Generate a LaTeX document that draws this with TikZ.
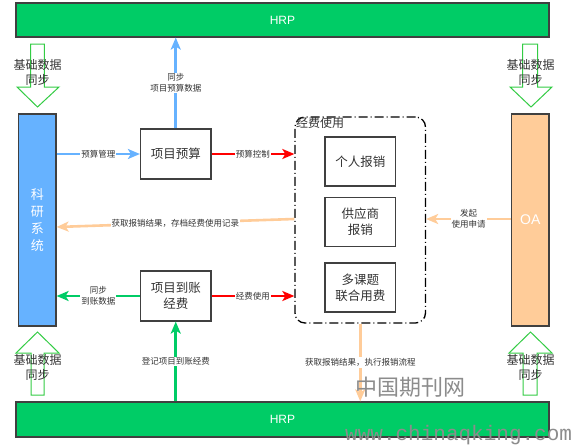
\documentclass[tikz,border=0pt]{standalone}
\usepackage{fontspec}
\setmainfont{Noto Sans CJK SC}
\newfontfamily\hv{Liberation Sans}
\newfontfamily\mono{Liberation Mono}
\usetikzlibrary{arrows.meta,calc}
\definecolor{hrpgreen}{HTML}{00CC66}
\definecolor{kyblue}{HTML}{66B2FF}
\definecolor{oaorange}{HTML}{FFCC99}
\definecolor{bordergray}{HTML}{404040}
\definecolor{txtgray}{HTML}{333333}
\definecolor{linkblue}{HTML}{66B2FF}
\definecolor{linkred}{HTML}{FF0000}
\definecolor{linkgreen}{HTML}{00CC66}
\definecolor{linkorange}{HTML}{FFCC99}
\definecolor{outlinegreen}{HTML}{33CC44}
\definecolor{wmgray}{HTML}{8C8C8C}
\tikzset{
  bar/.style={draw=bordergray, line width=1.2pt, inner sep=0pt},
  boxnode/.style={draw=bordergray, line width=1.2pt, fill=white, minimum width=70.5pt, minimum height=50pt, inner sep=0pt, align=center, font=\fontsize{12.5}{16}\selectfont, text=txtgray},
  link/.style={line width=2.6pt, -{Stealth[length=12pt,width=10pt,inset=3pt]}},
  elabel/.style={fill=white, inner sep=1pt, align=center, font=\fontsize{8.5}{11}\selectfont, text=txtgray},
  blockarrow/.style={draw=outlinegreen, line width=1pt},
  sidelabel/.style={align=center, font=\fontsize{12}{15}\selectfont, text=txtgray}
}
\begin{document}
\begin{tikzpicture}[x=1pt,y=-1pt]
\useasboundingbox (0,0) rectangle (576,447);
\fill[white] (0,0) rectangle (576,447);

% bars
\node[bar, fill=hrpgreen, minimum width=533pt, minimum height=34pt, text=white, font=\hv\fontsize{12}{14}\selectfont] (hrpT) at (282.5,20) {HRP};
\node[bar, fill=hrpgreen, minimum width=533pt, minimum height=35pt, text=white, font=\hv\fontsize{12}{14}\selectfont] (hrpB) at (282.5,419.5) {HRP};
\node[bar, fill=kyblue, minimum width=37.5pt, minimum height=212pt, text=white, align=center, font=\fontsize{13}{17}\selectfont] (ky) at (37.25,220) {科\\研\\系\\统};
\node[bar, fill=oaorange, minimum width=37.5pt, minimum height=212pt, text=white, font=\hv\fontsize{14}{16}\selectfont] (oa) at (530.25,220) {OA};

% block arrows (base data sync)
\draw[blockarrow] (30.7,44) -- (44.3,44) -- (44.3,87) -- (59,87) -- (37.5,107) -- (17,87) -- (30.7,87) -- cycle;
\draw[blockarrow] (522.7,44) -- (537.7,44) -- (537.7,87) -- (552,87) -- (531,107) -- (510,87) -- (522.7,87) -- cycle;
\draw[blockarrow] (31,395) -- (44,395) -- (44,353) -- (59,353) -- (37.5,332) -- (16,353) -- (31,353) -- cycle;
\draw[blockarrow] (523,395) -- (537,395) -- (537,353) -- (552,353) -- (530.5,332) -- (509,353) -- (523,353) -- cycle;
\node[sidelabel] (sTL) at (37.5,72.5) {基础数据\\同步};
\node[sidelabel] (sTR) at (530.5,72.5) {基础数据\\同步};
\node[sidelabel] (sBL) at (37.5,367.5) {基础数据\\同步};
\node[sidelabel] (sBR) at (530.5,367.5) {基础数据\\同步};

% main boxes
\node[boxnode] (ysb) at (175.75,154) {项目预算};
\node[boxnode] (dz) at (175.75,296) {项目到账\\经费};

% dashed group
\node[draw=black, line width=1.3pt, dash pattern=on 9pt off 3pt on 1pt off 3pt, rounded corners=10pt, minimum width=130.5pt, minimum height=206pt, inner sep=0pt] (jf) at (360.25,220) {};
\node[anchor=north west, inner sep=0pt, font=\fontsize{12}{14}\selectfont, text=txtgray] (jft) at (296,117.5) {经费使用};
\node[boxnode, minimum height=49pt] (gr) at (360.25,161.5) {个人报销};
\node[boxnode, minimum height=49pt] (gys) at (360.25,222) {供应商\\报销};
\node[boxnode, minimum height=49pt] (dkt) at (360.25,287.5) {多课题\\联合用费};

% connectors
\draw[link, linkblue] (ky.east |- ysb.west) -- node[elabel] {预算管理} (ysb.west);
\draw[link, linkred] (ysb.east) -- node[elabel] {预算控制} (ysb.east -| jf.west);
\draw[link, linkblue] (ysb.north) -- node[elabel] {同步\\项目预算数据} (ysb.north |- hrpT.south);
\draw[link, linkorange] ($(jf.west)+(0,-1)$) -- node[elabel] {获取报销结果，存档经费使用记录} ($(ky.east)+(0,7)$);
\draw[link, linkgreen] (dz.west) -- node[elabel] {同步\\到账数据} (dz.west -| ky.east);
\draw[link, linkred] (dz.east) -- node[elabel] {经费使用} (dz.east -| jf.west);
\draw[link, linkgreen] (hrpB.north -| dz.south) -- node[elabel] {登记项目到账经费} (dz.south);
\draw[link, linkorange] ($(oa.west)+(0,-1)$) -- node[elabel] {发起\\使用申请} ($(jf.east)+(0,-1)$);
\draw[link, linkorange] (jf.south) -- node[elabel, pos=0.5] {获取报销结果，执行报销流程} (jf.south |- hrpB.north);

% watermark
\node[anchor=center, inner sep=0pt, text=wmgray, font=\fontsize{22}{24}\selectfont] (wm1) at (410,387) {中国期刊网};
\node[anchor=west, inner sep=0pt, text=wmgray, font=\mono\fontsize{21}{24}\selectfont] (wm2) at (345,435) {www.chinaqking.com};
\end{tikzpicture}
\end{document}
